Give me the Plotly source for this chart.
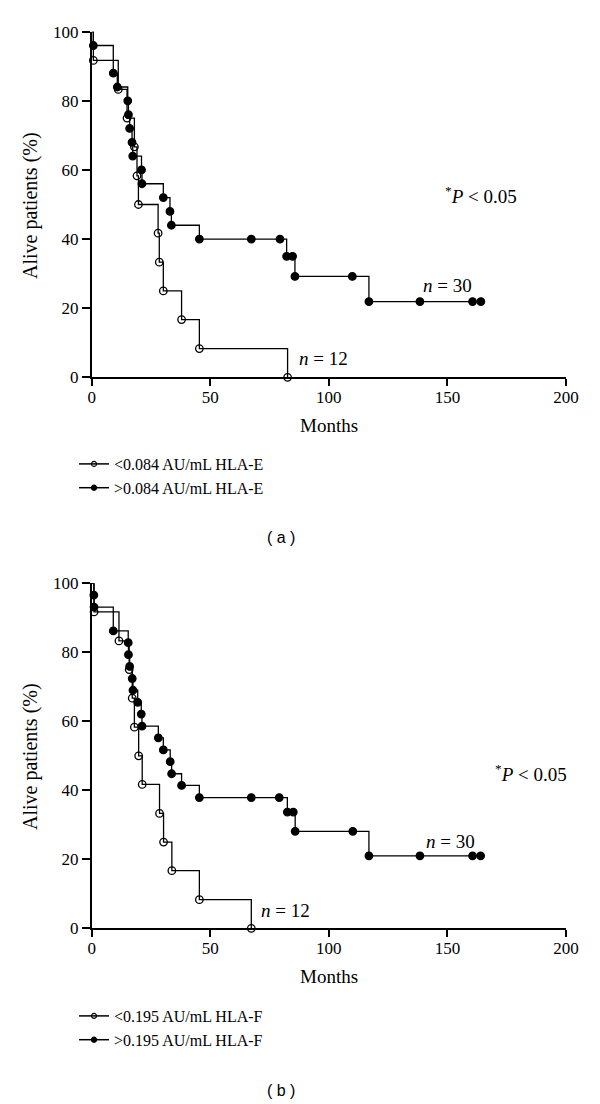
import plotly.graph_objects as go

# ---------------- data ----------------
# Panel (a): HLA-E
months_a_low = [0, 0.7, 11.2, 14.9, 18.0, 19.1, 19.7, 28.0, 28.5, 30.2, 37.9, 45.4, 82.6]
surv_a_low = [100, 91.7, 83.3, 75.0, 66.7, 58.3, 50.0, 41.7, 33.3, 25.0, 16.7, 8.3, 0]
months_a_high = [0, 0.7, 9.1, 10.8, 15.2, 15.5, 16.0, 17.0, 17.3, 21.0, 21.2, 30.2, 33.0,
                 33.6, 45.4, 67.3, 79.4, 82.2, 84.7, 85.7, 109.9, 116.9, 138.4, 160.6, 164.1]
surv_a_high = [100, 96, 88, 84, 80, 76, 72, 68, 64, 60, 56, 52, 48,
               44, 40, 40, 40, 35, 35, 29.2, 29.2, 21.9, 21.9, 21.9, 21.9]

# Panel (b): HLA-F
months_b_low = [0, 1.0, 11.5, 15.8, 17.1, 18.0, 19.8, 21.3, 28.6, 30.3, 33.8, 45.4, 67.3]
surv_b_low = [100, 91.7, 83.3, 75.0, 66.7, 58.3, 50.0, 41.7, 33.3, 25.0, 16.7, 8.3, 0]
months_b_high = [0, 0.9, 1.0, 9.1, 15.4, 15.5, 16.0, 17.1, 17.4, 19.4, 20.9, 21.2, 28.1, 30.2,
                 33.1, 33.7, 37.9, 45.4, 67.3, 79.1, 82.5, 85.0, 85.8, 110.1, 116.9, 138.4, 160.6, 164.0]
surv_b_high = [100, 96.6, 93.1, 86.2, 82.8, 79.3, 75.9, 72.4, 69.0, 65.5, 62.1, 58.6, 55.2, 51.7,
               48.3, 44.8, 41.4, 37.9, 37.9, 37.9, 33.7, 33.7, 28.1, 28.1, 21.0, 21.0, 21.0, 21.0]

legend_a = ["&lt;0.084 AU/mL HLA-E", "&gt;0.084 AU/mL HLA-E"]
legend_b = ["&lt;0.195 AU/mL HLA-F", "&gt;0.195 AU/mL HLA-F"]
x_ticks = [0, 50, 100, 150, 200]
y_ticks = [0, 20, 40, 60, 80, 100]

SERIF = "Liberation Serif, Times New Roman, serif"
W, H = 600, 1104


def px(x):
    return x / W


def py(y):
    return 1 - y / H


fig = go.Figure()


def add_group(xs, ys, xa, ya, open_marker):
    fig.add_trace(go.Scatter(
        x=xs, y=ys, mode="lines", line=dict(color="black", width=1.3, shape="hv"),
        xaxis=xa, yaxis=ya, showlegend=False, hoverinfo="skip"))
    fig.add_trace(go.Scatter(
        x=xs[1:], y=ys[1:], mode="markers", cliponaxis=False,
        marker=dict(symbol="circle-open" if open_marker else "circle",
                    size=7.5, color="black", line=dict(color="black", width=1.3)),
        xaxis=xa, yaxis=ya, showlegend=False))


add_group(months_a_low, surv_a_low, "x", "y", True)
add_group(months_a_high, surv_a_high, "x", "y", False)
add_group(months_b_low, surv_b_low, "x2", "y2", True)
add_group(months_b_high, surv_b_high, "x2", "y2", False)

# legend entries
for name, sym, lg in [(legend_a[0], "circle-open", "legend"), (legend_a[1], "circle", "legend"),
                      (legend_b[0], "circle-open", "legend2"), (legend_b[1], "circle", "legend2")]:
    fig.add_trace(go.Scatter(
        x=[None], y=[None], mode="lines+markers", name=name, legend=lg,
        line=dict(color="black", width=1.5),
        marker=dict(symbol=sym, size=5, color="black", line=dict(color="black", width=1.2)),
        xaxis="x", yaxis="y"))

xdom = [px(91.7), px(566)]
ydom_a = [py(377.3), py(31.7)]
ydom_b = [py(928.3), py(583.3)]

axis_common = dict(showline=True, linecolor="black", linewidth=1.5, showgrid=False, zeroline=False,
                   ticks="outside", tickcolor="black", tickwidth=1.5, automargin=False,
                   tickfont=dict(family=SERIF, size=17, color="black"))

xaxis_cfg = dict(axis_common, range=[0, 200], tickvals=x_ticks, ticklen=7, domain=xdom,
                 ticklabelstandoff=-3)
yaxis_cfg = dict(axis_common, range=[0, 100], tickvals=y_ticks, ticklen=8)

leg_font = dict(family=SERIF, size=16, color="black")
fig.update_layout(
    template="none",
    width=W, height=H, plot_bgcolor="white", paper_bgcolor="white",
    margin=dict(l=0, r=0, t=0, b=0, pad=0, autoexpand=False),
    xaxis=dict(xaxis_cfg, anchor="y"),
    yaxis=dict(yaxis_cfg, domain=ydom_a, anchor="x"),
    xaxis2=dict(xaxis_cfg, anchor="y2"),
    yaxis2=dict(yaxis_cfg, domain=ydom_b, anchor="x2"),
    legend=dict(x=px(74), y=py(447), xanchor="left", yanchor="top", font=leg_font,
                bgcolor="rgba(0,0,0,0)", tracegroupgap=0),
    legend2=dict(x=px(74), y=py(999), xanchor="left", yanchor="top", font=leg_font,
                 bgcolor="rgba(0,0,0,0)", tracegroupgap=0),
)

title_font = dict(family=SERIF, size=19, color="black")
ann_font = dict(family=SERIF, size=19, color="black")
texts = [
    (329, 425, "Months", title_font, 0),
    (329, 976, "Months", title_font, 0),
    (30, 206, "Alive patients (%)", dict(title_font, size=20), -90),
    (30, 757, "Alive patients (%)", dict(title_font, size=20), -90),
    (481, 195, "<sup>*</sup><i>P</i> &lt; 0.05", ann_font, 0),
    (447, 285, "<i>n</i> = 30", ann_font, 0),
    (323, 358, "<i>n</i> = 12", ann_font, 0),
    (531, 773, "<sup>*</sup><i>P</i> &lt; 0.05", ann_font, 0),
    (450, 842, "<i>n</i> = 30", ann_font, 0),
    (285, 910, "<i>n</i> = 12", ann_font, 0),
    (281, 537, "( a )", dict(family="Liberation Sans, Arial, sans-serif", size=16, color="black"), 0),
    (281, 1090, "( b )", dict(family="Liberation Sans, Arial, sans-serif", size=16, color="black"), 0),
]
for x, y, t, f, ang in texts:
    fig.add_annotation(x=px(x), y=py(y), xref="paper", yref="paper", text=t, showarrow=False,
                       font=f, textangle=ang, xanchor="center", yanchor="middle")

# remove the default 8px body margin so the 600x1104 figure fills the window exactly
fig.write_html("out.html", config={"displayModeBar": False},
               post_script="document.body.style.margin='0';")
